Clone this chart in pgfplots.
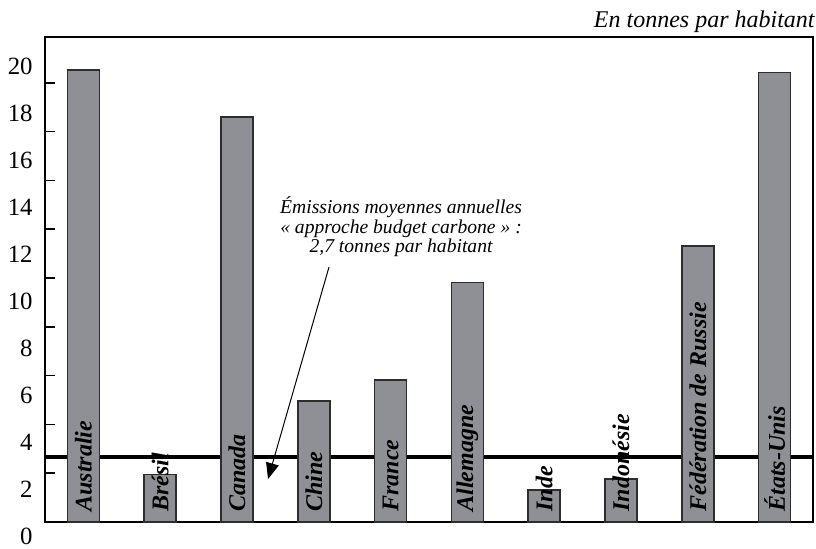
\documentclass[border=0pt]{standalone}
\usepackage{fontspec}
\setmainfont{Liberation Serif}
\usepackage{pgfplots}
\pgfplotsset{compat=1.18}
\usetikzlibrary{arrows.meta}
\definecolor{barfill}{RGB}{143,144,149}
\definecolor{barline}{RGB}{45,45,45}
\tikzset{barlab/.style={rotate=90, anchor=west, inner sep=0pt, font=\fontsize{12}{14}\selectfont\bfseries\itshape}}

\begin{document}
\begin{tikzpicture}
\path[use as bounding box] (-22.5pt,-13.5pt) rectangle (385.5pt,261pt);
% axis carrying only the (offset) tick labels
\begin{axis}[
  at={(0,-7.4pt)}, anchor=south west,
  scale only axis, width=384pt, height=235.3pt,
  xmin=-0.5, xmax=9.5, ymin=0, ymax=20,
  axis line style={draw=none},
  xtick=\empty, ytick={0,2,...,20},
  major tick length=0pt,
  /pgf/number format/assume math mode=true,
  yticklabel style={font=\fontsize{12.4}{13}\selectfont, inner sep=0pt, anchor=east, xshift=-6pt},
]
\end{axis}
% main axis
\begin{axis}[
  at={(0,0)}, anchor=south west,
  scale only axis, width=384pt, height=242.5pt,
  xmin=-0.5, xmax=9.5, ymin=0, ymax=19.88,
  axis line style={line width=0.75pt},
  xtick=\empty, ytick={2,4,...,18}, yticklabel=\empty,
  ytick style={line width=0.75pt, black}, tick align=inside, major tick length=5pt,
  ytick pos=left,
  clip=false,
  bar width=16pt,
]
\addplot[line width=1.9pt, black] coordinates {(-0.5,2.65) (9.5,2.65)};
\addplot[ybar, bar shift=0pt, fill=barfill, draw=barline, line width=0.8pt] coordinates {
  (0,18.52) (1,1.95) (2,16.61) (3,4.97) (4,5.82) (5,9.82) (6,1.31) (7,1.76) (8,11.32) (9,18.43)};
\node[barlab] at (axis cs:0,0.41) {Australie};
\node[barlab] at (axis cs:1,0.41) {Brésil};
\node[barlab] at (axis cs:2,0.41) {Canada};
\node[barlab] at (axis cs:3,0.41) {Chine};
\node[barlab] at (axis cs:4,0.41) {France};
\node[barlab] at (axis cs:5,0.41) {Allemagne};
\node[barlab] at (axis cs:6,0.41) {Inde};
\node[barlab] at (axis cs:7,0.41) {Indonésie};
\node[barlab] at (axis cs:8,0.41) {Fédération de Russie};
\node[barlab] at (axis cs:9,0.41) {États-Unis};
\draw[line width=0.5pt, -{Triangle[length=8pt,width=6.5pt]}] (axis cs:3.198,10.45) -- (axis cs:2.404,1.76);
\node[font=\fontsize{9.8}{8.5}\selectfont\itshape, align=center, inner sep=0pt, anchor=north] at (axis cs:4.136,13.36) {Émissions moyennes annuelles\\« approche budget carbone » :\\2,7 tonnes par habitant};
\path (rel axis cs:1,1) ++(1pt,4.5pt) node[anchor=base east, inner sep=0pt, font=\fontsize{12}{14}\selectfont\itshape] {En tonnes par habitant};
\end{axis}
\end{tikzpicture}
\end{document}
